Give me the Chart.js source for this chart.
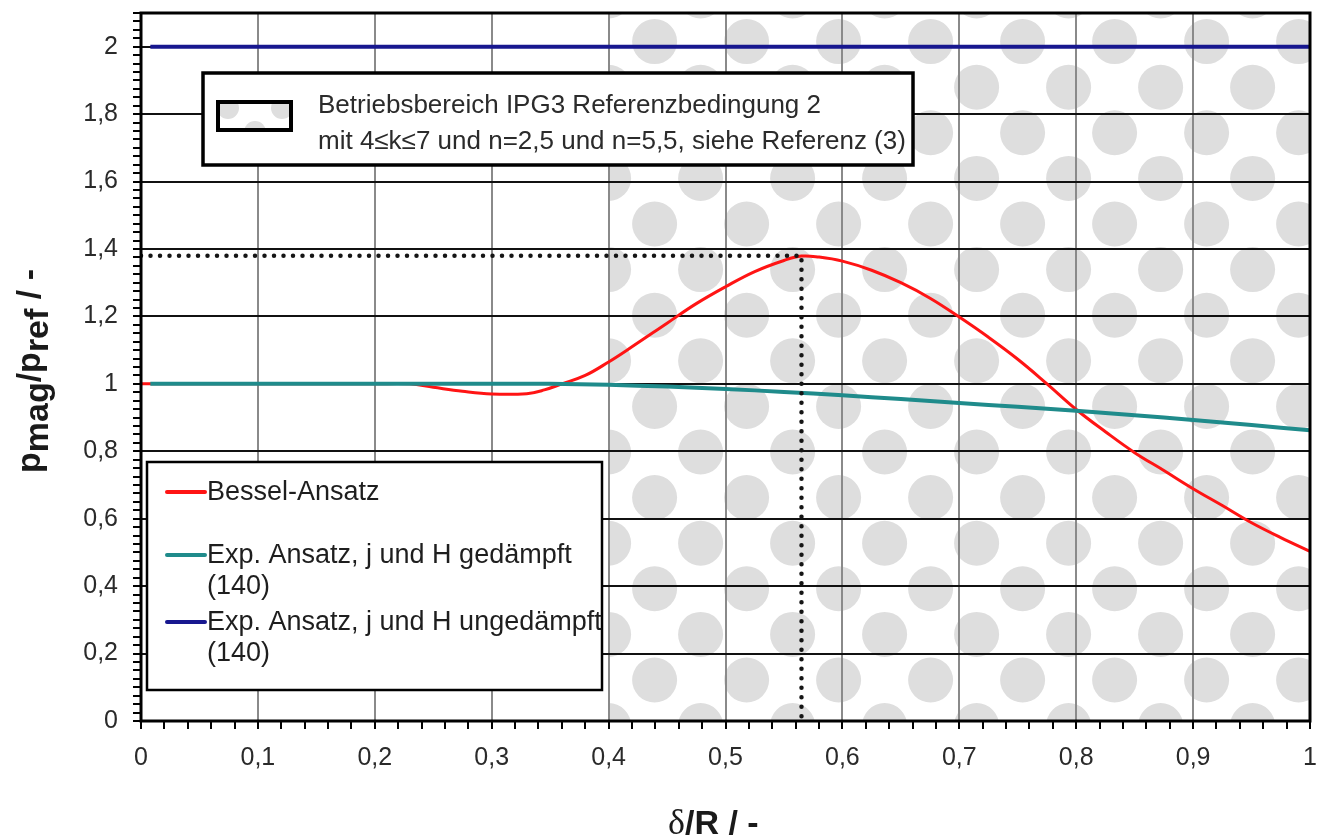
<!DOCTYPE html>
<html>
<head>
<meta charset="utf-8">
<script src="https://cdn.jsdelivr.net/npm/chart.js@4/dist/chart.umd.min.js"></script>
<style>
  html, body { margin: 0; padding: 0; background: #ffffff; }
  #wrap { width: 1324px; height: 840px; }
</style>
</head>
<body>
<div id="wrap"><canvas id="c" width="1324" height="840"></canvas></div>
<script>
// Bessel approach
const besselX = [0, 0.1, 0.2, 0.23, 0.25, 0.275, 0.3, 0.33, 0.345, 0.36, 0.38, 0.4, 0.42, 0.45, 0.475, 0.5, 0.525, 0.55, 0.565, 0.58, 0.6, 0.625, 0.65, 0.675, 0.7, 0.725, 0.75, 0.775, 0.8, 0.825, 0.85, 0.875, 0.9, 0.925, 0.95, 0.975, 1.0];
const besselY = [1.0, 1.0, 1.0, 1.0, 0.99, 0.978, 0.97, 0.971, 0.982, 1.0, 1.025, 1.065, 1.11, 1.18, 1.238, 1.288, 1.333, 1.366, 1.379, 1.376, 1.364, 1.337, 1.30, 1.254, 1.198, 1.138, 1.073, 1.0, 0.924, 0.858, 0.796, 0.743, 0.689, 0.639, 0.588, 0.544, 0.503];

// exponential approach, damped
const dampedX = [0.008, 0.1, 0.2, 0.3, 0.35, 0.4, 0.45, 0.5, 0.55, 0.6, 0.65, 0.7, 0.75, 0.8, 0.85, 0.9, 0.95, 1.0];
const dampedY = [1.0, 1.0, 1.0, 1.0, 1.0, 0.997, 0.992, 0.985, 0.976, 0.966, 0.955, 0.943, 0.932, 0.92, 0.907, 0.893, 0.878, 0.862];

// exponential approach, undamped
const undampedX = [0.008, 1.0];
const undampedY = [2.0, 2.0];

// peak marker guide
const guideX = [0, 0.565, 0.565];
const guideY = [1.38, 1.38, 0];

// operating range (hatched with dots)
const rangeStart = 0.4;

// axis ticks
const xMajorStep = 0.1, xMinorStep = 0.02;
const yMajorStep = 0.2, yMinorStep = 0.025;
const xMin = 0, xMax = 1, yMin = 0, yMax = 2.1;

const legendLabels = ['Bessel-Ansatz', 'Exp. Ansatz, j und H gedämpft\n(140)', 'Exp. Ansatz, j und H ungedämpft\n(140)'];
const infoLines = ['Betriebsbereich IPG3 Referenzbedingung 2', 'mit 4≤k≤7 und n=2,5 und n=5,5, siehe Referenz (3)'];

const zip = (xs, ys) => xs.map((x, i) => ({ x, y: ys[i] }));
const isMult = (v, step) => Math.abs(v / step - Math.round(v / step)) < 1e-6;
const fmt = v => String(Math.round(v * 10) / 10).replace('.', ',');

const RED = '#ff1414', TEAL = '#1f8b8b', BLUE = '#17178f';
const SANS = '"Liberation Sans", Arial, sans-serif';

function dotPattern(ctx, L, T, R, B, anchorX, anchorY, dx, dy, r) {
  ctx.save();
  ctx.beginPath();
  ctx.rect(L, T, R - L, B - T);
  ctx.clip();
  ctx.fillStyle = '#dedede';
  for (let n = 0; ; n++) {
    const cy = anchorY - n * dy;
    if (cy < T - r) break;
    const off = (n % 2 === 0) ? 0 : dx / 2;
    for (let cx = anchorX + off - dx; cx < R + r; cx += dx) {
      ctx.beginPath();
      ctx.arc(cx, cy, r, 0, Math.PI * 2);
      ctx.fill();
    }
  }
  ctx.restore();
}

const decor = {
  id: 'decor',
  beforeDraw(chart) {
    const { ctx, chartArea: a, scales } = chart;
    const L = scales.x.getPixelForValue(rangeStart);
    dotPattern(ctx, L, a.top, a.right, a.bottom, L, a.bottom + 4.6, 92, 45.6, 22.5);
  },
  afterDraw(chart) {
    const { ctx, chartArea: a } = chart;
    // frame
    ctx.save();
    ctx.strokeStyle = '#000';
    ctx.lineWidth = 3;
    ctx.strokeRect(a.left, a.top, a.right - a.left, a.bottom - a.top);

    // info box
    ctx.fillStyle = '#fff';
    ctx.fillRect(203, 73, 710, 92);
    ctx.lineWidth = 3.5;
    ctx.strokeRect(203, 73, 710, 92);
    dotPattern(ctx, 218, 102, 291, 130, 201, 132, 54, 24, 11);
    ctx.lineWidth = 4;
    ctx.strokeRect(218, 102, 73, 28);
    ctx.fillStyle = '#2b2b2b';
    ctx.font = '26px ' + SANS;
    ctx.textBaseline = 'alphabetic';
    ctx.textAlign = 'left';
    ctx.fillText(infoLines[0], 318, 113);
    ctx.fillText(infoLines[1], 318, 149);

    // legend box
    ctx.fillStyle = '#fff';
    ctx.fillRect(147, 462, 455, 228);
    ctx.lineWidth = 2.5;
    ctx.strokeStyle = '#000';
    ctx.strokeRect(147, 462, 455, 228);
    const ds = chart.data.datasets;
    const items = [1, 0, 2];
    const rows = [492, 555, 622];
    ctx.font = '27px ' + SANS;
    items.forEach((di, k) => {
      const d = ds[di];
      const y = rows[k];
      ctx.strokeStyle = d.borderColor;
      ctx.lineWidth = 4;
      ctx.lineCap = 'round';
      ctx.beginPath();
      ctx.moveTo(167, y);
      ctx.lineTo(205, y);
      ctx.stroke();
      ctx.fillStyle = '#1e1e1e';
      ctx.textBaseline = 'middle';
      d.label.split('\n').forEach((line, j) => ctx.fillText(line, 207, y + 1 + j * 31));
    });

    // y axis title: p_mag / p_ref / -
    ctx.fillStyle = '#1a1a1a';
    ctx.textBaseline = 'alphabetic';
    const big = 'bold 34px ' + SANS;
    const parts = [['p', 0], ['mag', 8], ['/', 0], ['p', 0], ['ref', 8], [' / -', 0]];
    ctx.font = big;
    const total = parts.reduce((s, p) => s + ctx.measureText(p[0]).width, 0);
    ctx.translate(40, 371 + total / 2);
    ctx.rotate(-Math.PI / 2);
    let px = 0;
    parts.forEach(([t, dy]) => {
      ctx.fillText(t, px, dy);
      px += ctx.measureText(t).width;
    });
    ctx.setTransform(1, 0, 0, 1, 0, 0);

    // x axis title: δ/R / -
    const serif = '36px "Liberation Serif", serif';
    ctx.font = serif;
    const wd = ctx.measureText('δ').width;
    const x0 = 668;
    ctx.fillText('δ', x0, 834);
    ctx.font = big;
    ctx.fillText('/R / -', x0 + wd, 834);
    ctx.restore();
  }
};

const chart = new Chart(document.getElementById('c'), {
  type: 'scatter',
  data: {
    datasets: [
      { label: legendLabels[1], data: zip(dampedX, dampedY), borderColor: TEAL, borderWidth: 4, showLine: true, pointRadius: 0, order: 1, tension: 0.3 },
      { label: legendLabels[0], data: zip(besselX, besselY), borderColor: RED, borderWidth: 3, showLine: true, pointRadius: 0, order: 2, tension: 0.4 },
      { label: legendLabels[2], data: zip(undampedX, undampedY), borderColor: BLUE, borderWidth: 4, showLine: true, pointRadius: 0, order: 3 },
      { label: 'guide', data: zip(guideX, guideY), borderColor: '#151515', borderWidth: 4.5, borderDash: [0, 9.5], borderCapStyle: 'round', showLine: true, pointRadius: 0, order: 0 }
    ]
  },
  options: {
    responsive: false,
    animation: false,
    devicePixelRatio: 1,
    layout: { autoPadding: false, padding: { left: 0, right: 14, top: 13, bottom: 0 } },
    plugins: { legend: { display: false }, tooltip: { enabled: false } },
    elements: { line: { borderJoinStyle: 'round' } },
    scales: {
      x: {
        type: 'linear', min: xMin, max: xMax,
        afterFit: s => { s.height = 119; s.paddingLeft = 0; s.paddingRight = 0; },
        border: { display: false },
        grid: {
          color: c => isMult(c.tick.value, xMajorStep) ? '#8a8a8a' : 'rgba(0,0,0,0)',
          lineWidth: 2, tickColor: '#000', tickWidth: 2, tickLength: 8, drawTicks: true
        },
        ticks: {
          stepSize: xMinorStep, autoSkip: false, maxRotation: 0, minRotation: 0,
          callback: v => isMult(v, xMajorStep) ? fmt(v) : '',
          font: { family: SANS, size: 25 }, color: '#2a2a2a', padding: 14
        }
      },
      y: {
        type: 'linear', min: yMin, max: yMax,
        afterFit: s => { s.width = 141; s.paddingTop = 0; s.paddingBottom = 0; },
        border: { display: false },
        grid: {
          color: c => isMult(c.tick.value, yMajorStep) ? '#111' : 'rgba(0,0,0,0)',
          lineWidth: 2, tickColor: '#000', tickWidth: 2, tickLength: 8, drawTicks: true
        },
        ticks: {
          stepSize: yMinorStep, autoSkip: false,
          callback: v => isMult(v, yMajorStep) ? fmt(v) : '',
          font: { family: SANS, size: 25 }, color: '#2a2a2a', padding: 15
        }
      }
    }
  },
  plugins: [decor]
});
</script>
</body>
</html>
